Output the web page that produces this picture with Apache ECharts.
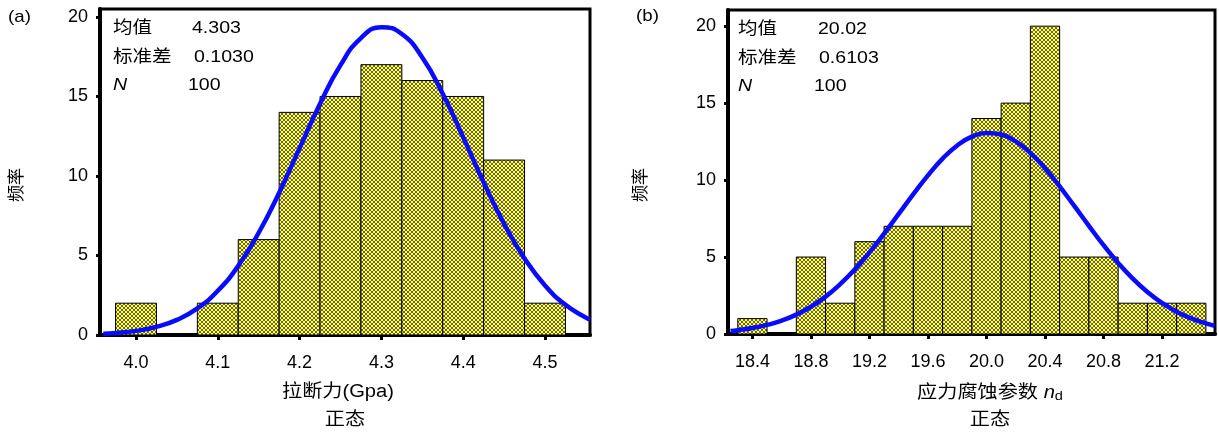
<!DOCTYPE html>
<html>
<head>
<meta charset="utf-8">
<script src="https://cdn.jsdelivr.net/npm/echarts@6/dist/echarts.min.js"></script>
<style>
html,body{margin:0;padding:0;background:#fff;}
#chart{width:1219px;height:434px;}
</style>
</head>
<body>
<div id="chart"></div>
<script>
// ---------- data ----------
// (a) tensile force histogram: bin edges and counts
const binsA_lo = [3.975, 4.025, 4.075, 4.125, 4.175, 4.225, 4.275, 4.325, 4.375, 4.425, 4.475];
const binsA_hi = [4.025, 4.075, 4.125, 4.175, 4.225, 4.275, 4.325, 4.375, 4.425, 4.475, 4.525];
const countsA  = [2, 0, 2, 6, 14, 15, 17, 16, 15, 11, 2];
const curveAX = [3.96, 3.975, 4.0, 4.025, 4.05, 4.075, 4.1, 4.125, 4.15, 4.175, 4.2, 4.225, 4.25, 4.275, 4.3, 4.325, 4.35, 4.375, 4.4, 4.425, 4.45, 4.475, 4.5, 4.525, 4.55, 4.555];
const curveAY = [0.08, 0.12, 0.26, 0.51, 0.95, 1.67, 2.78, 4.35, 6.43, 8.95, 11.75, 14.54, 16.97, 18.67, 19.36, 18.93, 17.45, 15.17, 12.43, 9.60, 6.99, 4.81, 3.11, 1.90, 1.09, 0.97];
const ticksA = [4.0, 4.1, 4.2, 4.3, 4.4, 4.5];
const statsA = ["4.303", "0.1030", "100"];

// (b) stress corrosion parameter histogram
const binsB_lo = [18.3, 18.5, 18.7, 18.9, 19.1, 19.3, 19.5, 19.7, 19.9, 20.1, 20.3, 20.5, 20.7, 20.9, 21.1, 21.3];
const binsB_hi = [18.5, 18.7, 18.9, 19.1, 19.3, 19.5, 19.7, 19.9, 20.1, 20.3, 20.5, 20.7, 20.9, 21.1, 21.3, 21.5];
const countsB  = [1, 0, 5, 2, 6, 7, 7, 7, 14, 15, 20, 5, 5, 2, 2, 2];
const curveBX = [18.25, 18.3, 18.4, 18.5, 18.6, 18.7, 18.8, 18.9, 19.0, 19.1, 19.2, 19.3, 19.4, 19.5, 19.6, 19.7, 19.8, 19.9, 20.0, 20.1, 20.2, 20.3, 20.4, 20.5, 20.6, 20.7, 20.8, 20.9, 21.0, 21.1, 21.2, 21.3, 21.4, 21.5, 21.56];
const curveBY = [0.20, 0.25, 0.39, 0.59, 0.87, 1.26, 1.77, 2.43, 3.24, 4.20, 5.30, 6.52, 7.80, 9.09, 10.31, 11.39, 12.25, 12.82, 13.06, 12.96, 12.51, 11.76, 10.77, 9.59, 8.32, 7.03, 5.77, 4.62, 3.60, 2.73, 2.02, 1.45, 1.01, 0.69, 0.53];
const ticksB = [18.4, 18.8, 19.2, 19.6, 20.0, 20.4, 20.8, 21.2];
const statsB = ["20.02", "0.6103", "100"];

const yTicks = [0, 5, 10, 15, 20];
const statLabels = ["均值", "标准差", "N"];

// ---------- pattern ----------
const tile = document.createElement('canvas');
tile.width = 4; tile.height = 4;
const tctx = tile.getContext('2d');
tctx.fillStyle = '#ffff60';
tctx.fillRect(0, 0, 4, 4);
tctx.fillStyle = '#6a6a24';
[[0,0],[1,1],[2,2],[3,3],[3,0],[2,1],[1,2],[0,3]].forEach(p => tctx.fillRect(p[0], p[1], 1, 1));
const hatch = {image: tile, repeat: 'repeat'};

const FONT = '"Liberation Sans", Arial, "Noto Sans CJK SC", sans-serif';

function pairs(xs, ys) { return xs.map((x, i) => [x, ys[i]]); }
function binData(lo, hi, c) { return lo.map((l, i) => [l, hi[i], c[i]]); }

function histSeries(idx, data) {
  return {
    type: 'custom', xAxisIndex: idx, yAxisIndex: idx,
    data: data,
    encode: {x: [0, 1], y: 2},
    clip: true,
    renderItem: function (params, api) {
      const c = api.value(2);
      if (!c) return null;
      const p0 = api.coord([api.value(0), c]);
      const p1 = api.coord([api.value(1), 0]);
      return {
        type: 'rect',
        shape: {x: p0[0], y: p0[1], width: p1[0] - p0[0], height: p1[1] - p0[1]},
        style: {fill: hatch, stroke: '#000', lineWidth: 1}
      };
    },
    z: 2
  };
}

function curveSeries(idx, data) {
  return {
    type: 'line', xAxisIndex: idx, yAxisIndex: idx, data: data,
    smooth: true, showSymbol: false, symbol: 'none', clip: true,
    lineStyle: {color: '#0a0aff', width: 4.5}, z: 5, animation: false
  };
}

function xAxis(idx, min, max, ticks, dec) {
  return {
    type: 'value', gridIndex: idx, min: min, max: max,
    splitLine: {show: false},
    axisLine: {show: true, lineStyle: {color: '#000', width: 4}},
    axisTick: {show: true, length: 5, inside: false, lineStyle: {color: '#000', width: 3}, customValues: ticks},
    axisLabel: {customValues: ticks, color: '#000', fontSize: 18, fontFamily: FONT, margin: 19,
      formatter: v => Number(v).toFixed(dec)}
  };
}
function yAxis(idx, max) {
  return {
    type: 'value', gridIndex: idx, min: 0, max: max,
    splitLine: {show: false},
    axisLine: {show: true, lineStyle: {color: '#000', width: 4}},
    axisTick: {show: true, length: 4, lineStyle: {color: '#000', width: 3}, customValues: yTicks},
    axisLabel: {customValues: yTicks, color: '#000', fontSize: 18, fontFamily: FONT, margin: 12}
  };
}

const chart = echarts.init(document.getElementById('chart'), null, {renderer: 'canvas'});
const gridA = {left: 100, top: 9, width: 490, height: 326};
const gridB = {left: 728, top: 10, width: 487, height: 324};

const graphics = [];
function txt(x, y, text, opts) {
  const o = Object.assign({size: 17, sx: 1.15, align: 'left', rot: 0, italic: false}, opts || {});
  graphics.push({
    type: 'text', x: x, y: y, scaleX: o.sx, rotation: o.rot,
    style: Object.assign({text: text, fontSize: o.size, fontFamily: FONT, fill: '#000',
      fontStyle: o.italic ? 'italic' : 'normal', textAlign: o.align, textVerticalAlign: 'middle'}, o.extra || {})
  });
}
function addStats(x0, vx, y0, vals) {
  const gaps = [0, 29, 57];
  statLabels.forEach((lab, i) => {
    txt(x0, y0 + gaps[i], lab, {italic: lab === 'N'});
    txt(vx[i], y0 + gaps[i], vals[i]);
  });
}
addStats(113, [192, 194, 188], 28, statsA);
addStats(738, [818, 819, 814], 29, statsB);

txt(8, 17, '(a)', {size: 17, sx: 1.1});
txt(636, 16, '(b)', {size: 17, sx: 1.1});
txt(17, 185, '频率', {size: 17, sx: 1, align: 'center', rot: Math.PI / 2});
txt(641, 185, '频率', {size: 17, sx: 1, align: 'center', rot: Math.PI / 2});
txt(338, 392, '拉断力(Gpa)', {size: 18, sx: 1.12, align: 'center'});
txt(345, 420, '正态', {size: 18, sx: 1.12, align: 'center'});
txt(990, 393, '应力腐蚀参数 {i|n}{s|d}', {size: 18, sx: 1.12, align: 'center', extra: {
  rich: {i: {fontStyle: 'italic', fontSize: 18, fontFamily: FONT, fill: '#000'}, s: {fontSize: 13, fontFamily: FONT, fill: '#000', padding: [7, 0, 0, 0]}}
}});
txt(990, 420, '正态', {size: 18, sx: 1.12, align: 'center'});

chart.setOption({
  animation: false,
  backgroundColor: '#fff',
  grid: [
    Object.assign({show: true, borderColor: '#000', borderWidth: 3, backgroundColor: 'transparent'}, gridA),
    Object.assign({show: true, borderColor: '#000', borderWidth: 3, backgroundColor: 'transparent'}, gridB)
  ],
  xAxis: [xAxis(0, 3.956, 4.555, ticksA, 1), xAxis(1, 18.233, 21.562, ticksB, 1)],
  yAxis: [yAxis(0, 20.5), yAxis(1, 21.05)],
  series: [
    histSeries(0, binData(binsA_lo, binsA_hi, countsA)),
    curveSeries(0, pairs(curveAX, curveAY)),
    histSeries(1, binData(binsB_lo, binsB_hi, countsB)),
    curveSeries(1, pairs(curveBX, curveBY))
  ],
  graphic: graphics
});
</script>
</body>
</html>
